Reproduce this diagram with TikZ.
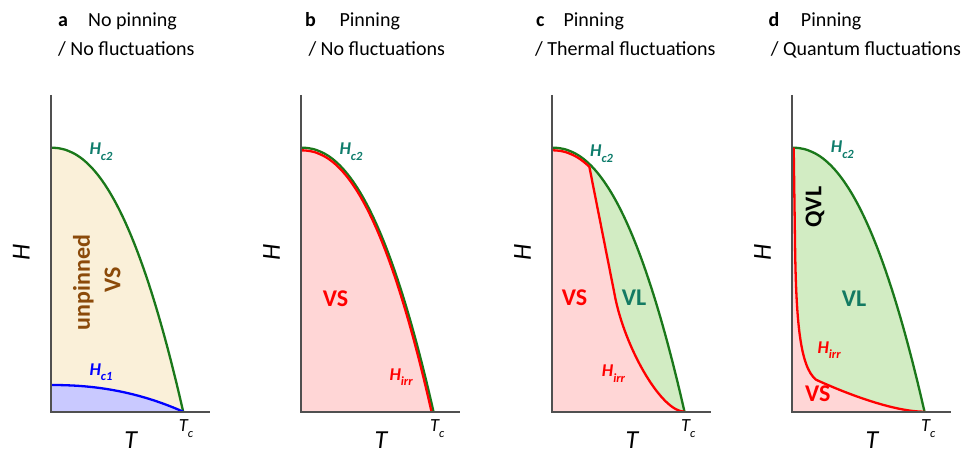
\documentclass[tikz,border=0pt]{standalone}
\usepackage{fontspec}
\setmainfont{Carlito}
\definecolor{gline}{HTML}{1A781A}
\definecolor{gfill}{HTML}{D2ECC3}
\definecolor{pfill}{HTML}{FFD6D6}
\definecolor{bfill}{HTML}{FAF0D9}
\definecolor{vfill}{HTML}{C9C9FF}
\definecolor{teal}{HTML}{0E7C6B}
\definecolor{vlcol}{HTML}{137A62}
\definecolor{brownc}{HTML}{8B4A0A}
\definecolor{axisc}{HTML}{505050}
\newcommand{\mysub}[1]{\raisebox{-5.5pt}{\fontsize{12.5}{13}\selectfont #1}}
\begin{document}
\begin{tikzpicture}[x=1pt,y=1pt,
  declare function={hc(\t)=1-(\t)^2.2;},
  axisline/.style={draw=axisc,line width=1.8pt},
  curve/.style={line width=2.3pt},
  title/.style={anchor=base west,inner sep=0pt,font=\fontsize{20}{24}\selectfont},
  crit/.style={anchor=base west,inner sep=0pt,font=\fontsize{18}{20}\selectfont\bfseries\itshape},
  phase/.style={anchor=base west,inner sep=0pt,font=\fontsize{24}{28}\selectfont\bfseries},
  axlab/.style={inner sep=0pt,font=\fontsize{26}{30}\selectfont\itshape},
  tclab/.style={anchor=base west,inner sep=0pt,font=\fontsize{18.5}{20}\selectfont\itshape}]
\useasboundingbox (0,0) rectangle (974,453);
\def\W{132.5}
\def\Hm{264}

% ---------- panel a ----------
\begin{scope}[shift={(50.7,41.3)}]
  \fill[bfill] (0,0) -- (0,\Hm) -- plot[domain=0.001:1,samples=60] ({\W*\x},{\Hm*hc(\x)}) -- cycle;
  \fill[vfill] (0,0) -- (0,26.7) -- plot[domain=0.001:1,samples=40] ({\W*\x},{26.7*hc(\x)}) -- cycle;
  \draw[curve,gline] (0,\Hm) -- plot[domain=0.001:1,samples=60] ({\W*\x},{\Hm*hc(\x)});
  \draw[curve,blue] (0,26.7) -- plot[domain=0.001:1,samples=40] ({\W*\x},{26.7*hc(\x)});
  \draw[axisline] (0,316.7) -- (0,0) -- (159,0);
\end{scope}
\node[title] (ta) at (58,426.3) {\bfseries a};
\node[title] (ta1) at (88,426.3) {No pinning};
\node[title] (ta2) at (58,397) {/ No fluctuations};
\node[crit,text=teal] (hc2a) at (89.3,298) {H\mysub{c2}};
\node[crit,text=blue] (hc1a) at (89.3,78) {H\mysub{c1}};
\node[inner sep=0pt,rotate=90,text=brownc,font=\fontsize{24}{28}\selectfont\bfseries] (unp) at (83.3,170.5) {unpinned};
\node[inner sep=0pt,rotate=90,text=brownc,font=\fontsize{24}{28}\selectfont\bfseries] (vsa) at (112.5,173) {VS};
\node[axlab,rotate=90] (Ha) at (21.3,201) {H};
\node[axlab,anchor=base] (Ta) at (130.7,5) {T};
\node[tclab] (tca) at (178.7,21.3) {T\mysub{c}};

% ---------- panel b ----------
\begin{scope}[shift={(301,41.3)}]
  \fill[pfill] (0,0) -- (0,0.99*\Hm) -- plot[domain=0.001:1,samples=60] ({0.985*\W*\x},{0.99*\Hm*hc(\x)}) -- cycle;
  \draw[curve,gline] (0,\Hm) -- plot[domain=0.001:1,samples=60] ({\W*\x},{\Hm*hc(\x)});
  \draw[curve,red] (0,0.99*\Hm) -- plot[domain=0.001:1,samples=60] ({0.985*\W*\x},{0.99*\Hm*hc(\x)});
  \draw[axisline] (0,316.7) -- (0,0) -- (159,0);
\end{scope}
\node[title] (tb) at (305,426.3) {\bfseries b};
\node[title] (tb1) at (339.3,426.3) {Pinning};
\node[title] (tb2) at (308.3,397) {/ No fluctuations};
\node[crit,text=teal] (hc2b) at (339.3,298) {H\mysub{c2}};
\node[crit,text=red] (hirrb) at (389.3,73) {H\mysub{irr}};
\node[phase,text=red] (vsb) at (322.7,147) {VS};
\node[axlab,rotate=90] (Hb) at (271.6,201) {H};
\node[axlab,anchor=base] (Tb) at (381,5) {T};
\node[tclab] (tcb) at (430,21.3) {T\mysub{c}};

% ---------- panel c ----------
\begin{scope}[shift={(552,41.3)}]
  \fill[gfill] (0,0) -- (0,\Hm) -- plot[domain=0.001:1,samples=60] ({\W*\x},{\Hm*hc(\x)}) -- cycle;
  \fill[pfill] (0,0) -- (0,0.99*\Hm) -- plot[domain=0.001:0.285,samples=20] ({0.99*\W*\x},{0.99*\Hm*hc(\x)})
     -- (63.7,111.7) .. controls (75,60) and (110,0) .. (\W,0) -- cycle;
  \draw[curve,gline] (0,\Hm) -- plot[domain=0.001:1,samples=60] ({\W*\x},{\Hm*hc(\x)});
  \draw[curve,red,line join=round] (0,0.99*\Hm) -- plot[domain=0.001:0.285,samples=20] ({0.99*\W*\x},{0.99*\Hm*hc(\x)})
     -- (63.7,111.7) .. controls (75,60) and (110,0) .. (\W,0);
  \draw[axisline] (0,316.7) -- (0,0) -- (159,0);
\end{scope}
\node[title] (tc) at (536,426.3) {\bfseries c};
\node[title] (tc1) at (563.3,426.3) {Pinning};
\node[title] (tc2) at (535,397) {/ Thermal fluctuations};
\node[crit,text=teal] (hc2c) at (590,296) {H\mysub{c2}};
\node[crit,text=red] (hirrc) at (601.7,76.3) {H\mysub{irr}};
\node[phase,text=red] (vsc) at (561.7,148) {VS};
\node[phase,text=vlcol] (vlc) at (621.7,148) {VL};
\node[axlab,rotate=90] (Hc) at (522.6,201) {H};
\node[axlab,anchor=base] (Tc) at (632,5) {T};
\node[tclab] (tcc) at (681,21.3) {T\mysub{c}};

% ---------- panel d ----------
\begin{scope}[shift={(792,41.3)}]
  \fill[gfill] (0,0) -- (0,\Hm) -- plot[domain=0.001:1,samples=60] ({\W*\x},{\Hm*hc(\x)}) -- cycle;
  \fill[pfill] (0,0) -- (1.7,\Hm) -- (3,170) .. controls (4,90) and (8,45) .. (24,32)
     .. controls (50,20) and (100,0) .. (\W,0) -- cycle;
  \draw[curve,gline] (0,\Hm) -- plot[domain=0.001:1,samples=60] ({\W*\x},{\Hm*hc(\x)});
  \draw[curve,red,line join=round] (1.7,\Hm) -- (3,170) .. controls (4,90) and (8,45) .. (24,32)
     .. controls (50,20) and (100,0) .. (\W,0);
  \draw[axisline] (0,316.7) -- (0,0) -- (159,0);
\end{scope}
\node[title] (td) at (768.3,426.3) {\bfseries d};
\node[title] (td1) at (800.7,426.3) {Pinning};
\node[title] (td2) at (770.7,397) {/ Quantum fluctuations};
\node[crit,text=teal] (hc2d) at (830.7,300) {H\mysub{c2}};
\node[crit,text=red] (hirrd) at (817.3,99.7) {H\mysub{irr}};
\node[inner sep=0pt,rotate=90,font=\fontsize{24}{28}\selectfont\bfseries] (qvl) at (815,246) {QVL};
\node[phase,text=vlcol] (vld) at (841.7,147) {VL};
\node[phase,text=red] (vsd) at (805,51.3) {VS};
\node[axlab,rotate=90] (Hd) at (762.6,201) {H};
\node[axlab,anchor=base] (Td) at (872,5) {T};
\node[tclab] (tcd) at (921,21.3) {T\mysub{c}};
\end{tikzpicture}
\end{document}
